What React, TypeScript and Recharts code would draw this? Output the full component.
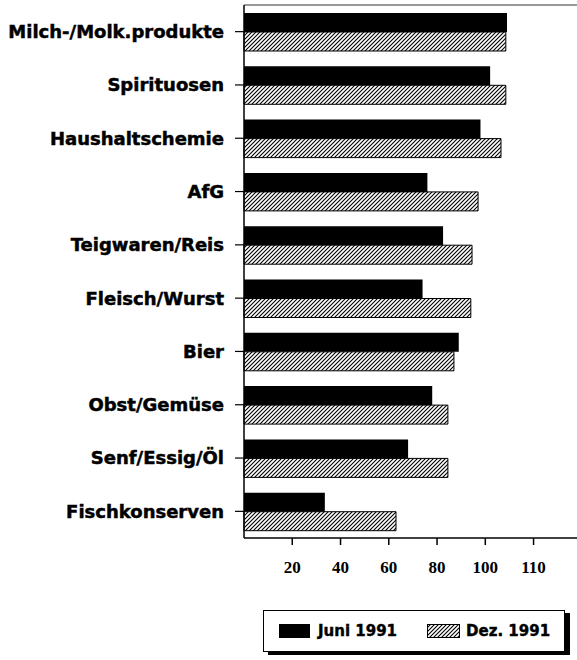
import { BarChart, Bar, XAxis, YAxis, CartesianGrid } from "recharts";

const categories = [
  "Milch-/Molk.produkte",
  "Spirituosen",
  "Haushaltschemie",
  "AfG",
  "Teigwaren/Reis",
  "Fleisch/Wurst",
  "Bier",
  "Obst/Gemüse",
  "Senf/Essig/Öl",
  "Fischkonserven",
];
const juni1991 = [109, 102, 98, 76, 82.5, 74, 89, 78, 68, 33.5];
const dez1991 = [108.5, 108.5, 106.5, 97, 94.5, 94, 87, 84.5, 84.5, 63];

// the original prints "110" under the 120 position
const xTicks = [20, 40, 60, 80, 100, 120];
const xTickLabels = ["20", "40", "60", "80", "100", "110"];

const data = categories.map((name, i) => ({
  name,
  juni: juni1991[i],
  dez: dez1991[i],
}));

const sans = "DejaVu Sans, Liberation Sans, sans-serif";

function Hatch({ id }: { id: string }) {
  return (
    <pattern id={id} patternUnits="userSpaceOnUse" width={4} height={4}>
      <rect width={4} height={4} fill="#fff" />
      <path d="M-1,1 l2,-2 M0,4 l4,-4 M3,5 l2,-2" stroke="#000" strokeWidth={1.1} />
    </pattern>
  );
}

export default function App() {
  return (
    <div style={{ position: "absolute", left: 0, top: 0, width: 577, height: 660, background: "#fff" }}>
      <BarChart
        width={577}
        height={600}
        data={data}
        layout="vertical"
        margin={{ top: 5, right: 0, bottom: 0, left: 0 }}
        barGap={0}
        barSize={19}
      >
        <defs>
          <Hatch id="hatchBar" />
        </defs>
        {/* thin frame line along the top of the plot */}
        <CartesianGrid
          vertical={false}
          stroke="#333"
          horizontalCoordinatesGenerator={({ offset }: any) => [offset.top]}
        />
        <XAxis
          type="number"
          domain={[0, 138]}
          ticks={xTicks}
          tickFormatter={(v: number) => xTickLabels[xTicks.indexOf(v)]}
          height={62}
          tickSize={7}
          tickMargin={16}
          axisLine={{ stroke: "#000", strokeWidth: 1.5 }}
          tickLine={{ stroke: "#000", strokeWidth: 1.5 }}
          tick={{ fill: "#000", fontSize: 17, fontWeight: 700, fontFamily: "Liberation Serif, serif" }}
        />
        <YAxis
          type="category"
          dataKey="name"
          width={244}
          tickSize={9}
          tickMargin={11}
          axisLine={{ stroke: "#000", strokeWidth: 1.5 }}
          tickLine={{ stroke: "#000", strokeWidth: 1.2 }}
          tick={{ fill: "#000", stroke: "#000", strokeWidth: 0.5, fontSize: 18, fontWeight: 700, fontFamily: sans }}
          interval={0}
        />
        <Bar dataKey="juni" name="Juni 1991" fill="#000" isAnimationActive={false} />
        <Bar
          dataKey="dez"
          name="Dez. 1991"
          fill="url(#hatchBar)"
          stroke="#000"
          strokeWidth={1}
          isAnimationActive={false}
        />
      </BarChart>

      <div
        style={{
          position: "absolute",
          left: 263,
          top: 610,
          width: 302,
          height: 42,
          border: "1.5px solid #000",
          boxShadow: "5px 3px 0 #000",
          display: "flex",
          alignItems: "center",
          fontFamily: sans,
          fontWeight: 700,
          fontSize: 15,
          color: "#000",
          WebkitTextStroke: "0.4px #000",
          boxSizing: "border-box",
        }}
      >
        <div style={{ width: 31, height: 14, background: "#000", marginLeft: 15, marginRight: 8 }} />
        <span>Juni 1991</span>
        <svg width={33} height={14} style={{ marginLeft: 30, marginRight: 6 }}>
          <defs>
            <Hatch id="hatchLegend" />
          </defs>
          <rect x={0.5} y={0.5} width={32} height={13} fill="url(#hatchLegend)" stroke="#000" />
        </svg>
        <span>Dez. 1991</span>
      </div>
    </div>
  );
}
